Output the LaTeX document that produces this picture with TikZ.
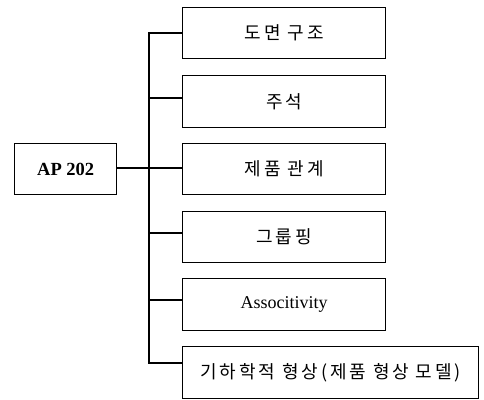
\documentclass[tikz,border=0pt]{standalone}
\usepackage{fontspec}
\setmainfont{Liberation Serif}
\newfontfamily\kr[LetterSpace=16]{Noto Sans CJK KR}
\begin{document}
\begin{tikzpicture}[x=1pt,y=-1pt,
  box/.style={draw,line width=1.4pt,anchor=north west,inner sep=0pt},
  krtext/.style={font=\kr\fontsize{18}{21}\selectfont},
  conn/.style={line width=1.6pt}]
\useasboundingbox (0,0) rectangle (484,399);
\node[box,minimum width=102pt,minimum height=51pt,font=\fontsize{18.5}{21}\selectfont\bfseries] (ap) at (14,143) {AP 202};
\node[box,krtext,minimum width=203pt,minimum height=51pt] (b1) at (182,7) {도면 구조};
\node[box,krtext,minimum width=203pt,minimum height=52pt] (b2) at (182,75) {주석};
\node[box,krtext,minimum width=203pt,minimum height=51pt] (b3) at (182,143) {제품 관계};
\node[box,krtext,minimum width=203pt,minimum height=51pt] (b4) at (182,211) {그룹핑};
\node[box,minimum width=203pt,minimum height=52pt,font=\fontsize{18}{21}\selectfont] (b5) at (182,278) {Associtivity};
\node[box,krtext,minimum width=296pt,minimum height=52pt] (b6) at (182,346) {기하학적 형상(제품 형상 모델)};
\coordinate (t1) at (149,33);
\coordinate (t6) at (149,363);
\draw[conn] (ap.east |- 0,168) -- (b3.west |- 0,168);
\draw[conn] (b1.west |- t1) -- (t1) -- (t6) -- (b6.west |- t6);
\draw[conn] (149,98) -- (b2.west |- 0,98);
\draw[conn] (149,233) -- (b4.west |- 0,233);
\draw[conn] (149,300) -- (b5.west |- 0,300);
\end{tikzpicture}
\end{document}
